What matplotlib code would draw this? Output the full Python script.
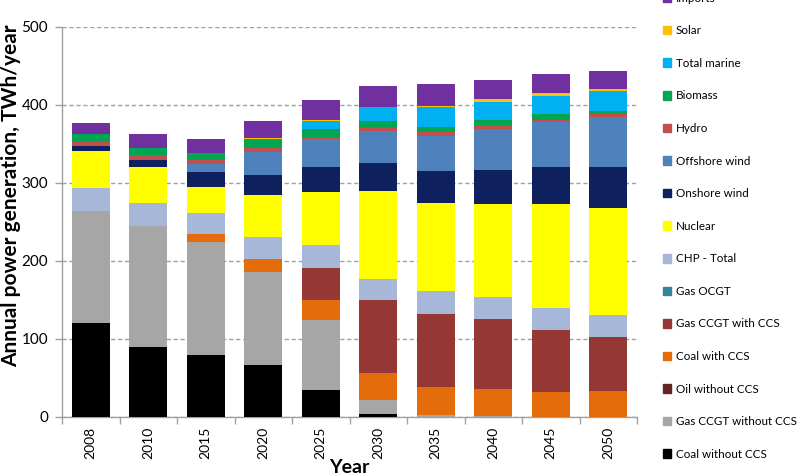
import matplotlib
matplotlib.use("Agg")
import matplotlib.pyplot as plt
import matplotlib.patches as mpatches
import numpy as np

plt.rcParams['font.family'] = ['Lato', 'DejaVu Sans']

years = ['2008', '2010', '2015', '2020', '2025', '2030', '2035', '2040', '2045', '2050']

coal_wo_ccs = [120, 90, 79, 67, 35, 4, 0, 0, 0, 0]
gas_ccgt_wo_ccs = [144, 155, 145, 119, 89, 18, 3, 1, 0, 0]
oil_wo_ccs = [0, 0, 0, 0, 0, 0, 0, 0, 0, 0]
coal_ccs = [0, 0, 11, 17, 26, 35, 36, 35, 32, 33]
gas_ccgt_ccs = [0, 0, 0, 0, 41, 93, 93, 90, 79, 70]
gas_ocgt = [0, 0, 0, 0, 0, 0, 0, 0, 0, 0]
chp_total = [29, 29, 27, 28, 29, 27, 30, 28, 29, 28]
nuclear = [48, 47, 33, 54, 69, 113, 113, 119, 133, 137]
onshore_wind = [6, 9, 19, 25, 31, 36, 40, 44, 47, 53]
offshore_wind = [0, 0, 10, 30, 36, 41, 45, 52, 58, 63]
hydro = [5, 6, 5, 5, 3, 4, 6, 5, 3, 5]
biomass = [11, 9, 10, 12, 10, 9, 6, 7, 7, 3]
total_marine = [0, 0, 0, 0, 11, 17, 26, 23, 24, 26]
solar = [0, 0, 0, 1, 1, 1, 1, 4, 3, 3]
imports = [14, 18, 17, 22, 25, 26, 28, 24, 25, 23]

series = [
    ("Coal without CCS", coal_wo_ccs, "#000000"),
    ("Gas CCGT without CCS", gas_ccgt_wo_ccs, "#A6A6A6"),
    ("Oil without CCS", oil_wo_ccs, "#632523"),
    ("Coal with CCS", coal_ccs, "#E46C0A"),
    ("Gas CCGT with CCS", gas_ccgt_ccs, "#953735"),
    ("Gas OCGT", gas_ocgt, "#31859C"),
    ("CHP - Total", chp_total, "#A7B7D8"),
    ("Nuclear", nuclear, "#FFFF00"),
    ("Onshore wind", onshore_wind, "#0F205E"),
    ("Offshore wind", offshore_wind, "#4F81BD"),
    ("Hydro", hydro, "#C0504D"),
    ("Biomass", biomass, "#00A651"),
    ("Total marine", total_marine, "#00B0F0"),
    ("Solar", solar, "#FFC000"),
    ("Imports", imports, "#7030A0"),
]

fig = plt.figure(figsize=(7.99, 4.76), dpi=100)
ax = fig.add_axes([62/799, 1 - 417/476, (637-62)/799, (417-27)/476])

x = np.arange(len(years))
bottom = np.zeros(len(years))
handles = []
for name, vals, col in series:
    v = np.array(vals, dtype=float)
    ax.bar(x, v, bottom=bottom, width=0.66, color=col, linewidth=0, zorder=3)
    bottom += v
    handles.append(mpatches.Patch(color=col, label=name))

ax.set_xlim(-0.5, len(years) - 0.5)
ax.set_ylim(0, 500)
ax.set_yticks([0, 100, 200, 300, 400, 500])
ax.yaxis.grid(True, linestyle=(0, (3, 2)), color="#A0A0A0", linewidth=1.0, zorder=0)
ax.set_axisbelow(True)

ax.set_xticks(x)
ax.set_xticklabels(years, rotation=90, fontsize=10)
ax.tick_params(axis='x', which='major', length=0, pad=7)
ax.set_xticks(np.arange(-0.5, len(years), 1), minor=True)
ax.tick_params(axis='x', which='minor', length=5, color="#A0A0A0", width=1)
ax.tick_params(axis='y', length=5, color="#A0A0A0", labelsize=11, width=1, pad=5)

for s in ['top', 'right']:
    ax.spines[s].set_visible(False)
for s in ['left', 'bottom']:
    ax.spines[s].set_color("#A0A0A0")
    ax.spines[s].set_linewidth(1)

fig.text(11/799, 1 - 196/476, "Annual power generation, TWh/year", rotation=90,
         ha='center', va='center', fontsize=15, fontweight='bold')
ax.set_xlabel("Year", fontsize=14, fontweight='bold', labelpad=0)

leg = fig.legend(handles=handles[::-1], loc='upper left',
                 bbox_to_anchor=(658/799, 1 + 12/476), frameon=False,
                 fontsize=8.4, handlelength=0.75, handleheight=0.75,
                 handletextpad=0.4, labelspacing=1.85, borderaxespad=0)

fig.savefig("out.png", dpi=100)
